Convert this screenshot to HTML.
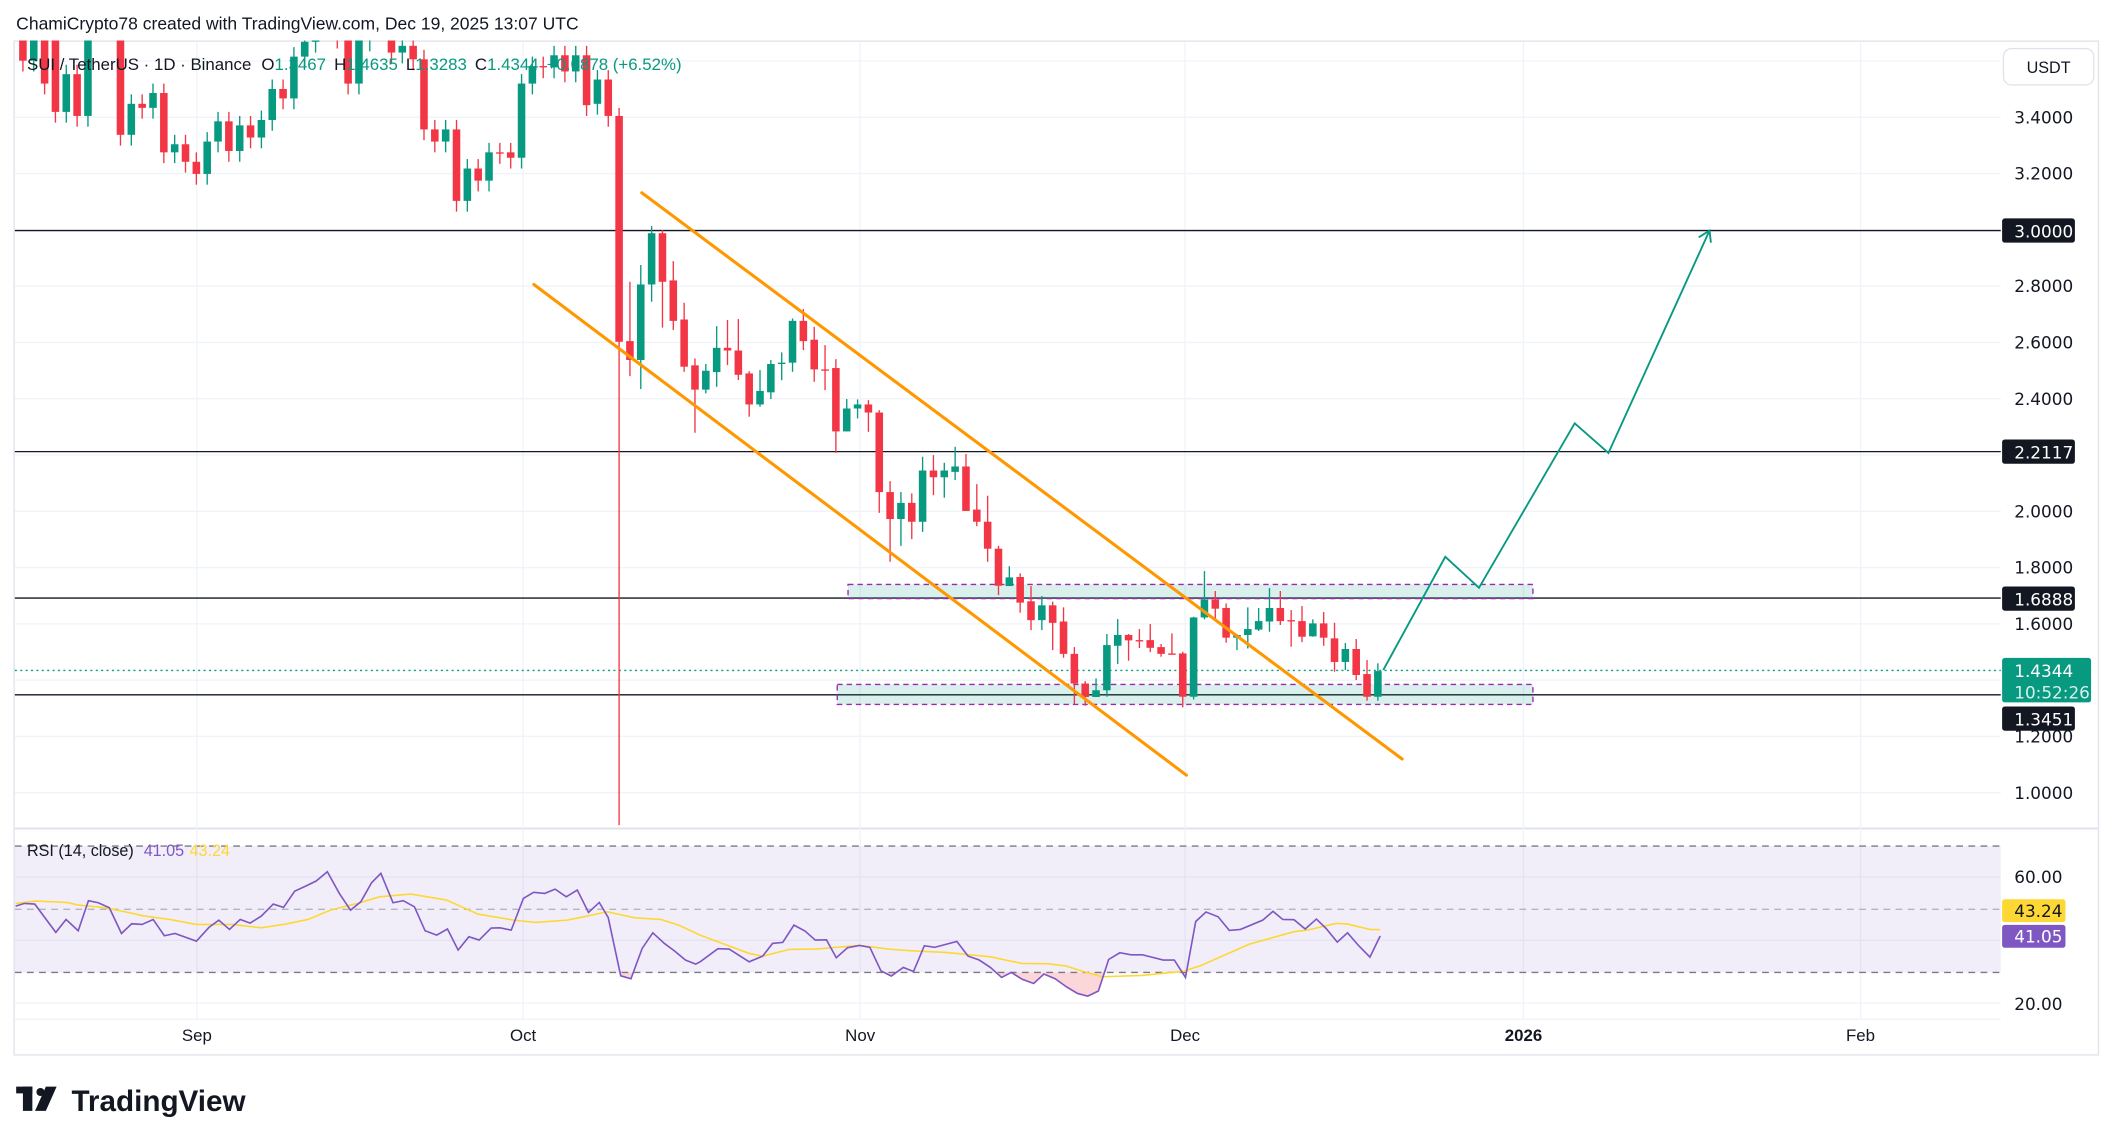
<!DOCTYPE html>
<html><head><meta charset="utf-8"><style>
html,body{margin:0;padding:0;background:#fff;}
svg{display:block;font-family:"Liberation Sans",sans-serif;}
</style></head><body>
<svg id="s" width="2114" height="1145" viewBox="0 0 1568 849.3" preserveAspectRatio="none" xmlns="http://www.w3.org/2000/svg">
<defs>
<clipPath id="pane"><rect x="11" y="30" width="1473" height="583"/></clipPath>
<clipPath id="os"><rect x="11" y="721.3" width="1473" height="40"/></clipPath>
</defs>
<rect width="1568" height="850" fill="#fff"/>
<text x="12" y="22" font-size="13" fill="#131722">ChamiCrypto78 created with TradingView.com, Dec 19, 2025 13:07 UTC</text>
<!-- frame -->
<rect x="10.5" y="30.5" width="1546" height="752" fill="none" stroke="#e0e3eb"/>
<line x1="11" y1="614.5" x2="1556" y2="614.5" stroke="#e0e3eb" stroke-width="1.5"/>
<line x1="11" y1="756" x2="1484" y2="756" stroke="#f0f3fa"/>
<g id="grid" stroke="#f0f3fa" stroke-width="1"></g>
<!-- RSI band -->
<rect x="11" y="627.6" width="1473" height="93.7" fill="#7e57c2" fill-opacity="0.1"/>
<line x1="11" y1="627.6" x2="1484" y2="627.6" stroke="#787b86" stroke-dasharray="5,4"/>
<line x1="11" y1="674.5" x2="1484" y2="674.5" stroke="#b2b5be" stroke-dasharray="5,4"/>
<line x1="11" y1="721.3" x2="1484" y2="721.3" stroke="#787b86" stroke-dasharray="5,4"/>
<!-- horizontal levels -->
<g stroke="#131722" stroke-width="1">
<line x1="11" y1="171" x2="1484" y2="171"/>
<line x1="11" y1="335" x2="1484" y2="335"/>
<line x1="11" y1="443.6" x2="1484" y2="443.6"/>
<line x1="11" y1="515.4" x2="1484" y2="515.4"/>
</g>
<line x1="11" y1="497.3" x2="1484" y2="497.3" stroke="#089981" stroke-width="1" stroke-dasharray="1.5,2.5"/>
<!-- zones -->
<rect x="629" y="433.5" width="508" height="10.5" fill="#089981" fill-opacity="0.15" stroke="#9c27b0" stroke-width="1" stroke-dasharray="4,3"/>
<rect x="621" y="507.7" width="516" height="14.8" fill="#089981" fill-opacity="0.15" stroke="#9c27b0" stroke-width="1" stroke-dasharray="4,3"/>
<g id="candles" clip-path="url(#pane)"></g>
<!-- channel -->
<g stroke="#ff9800" stroke-width="2.3" stroke-linecap="round">
<line x1="476" y1="143" x2="1040" y2="563"/>
<line x1="396" y1="211" x2="880" y2="575"/>
</g>
<!-- projection -->
<polyline points="1026,497 1072,413 1097,436 1168,314 1193,336 1268,171" fill="none" stroke="#089981" stroke-width="1.4"/>
<polyline points="1260,176 1268,171 1269,180" fill="none" stroke="#089981" stroke-width="1.4"/>
<g id="rsi"></g>
<!-- legends -->
<text x="20" y="52" font-size="12.5" fill="#131722">SUI / TetherUS · 1D · Binance  <tspan dx="4">O</tspan><tspan fill="#089981">1.3467</tspan><tspan dx="6">H</tspan><tspan fill="#089981">1.4635</tspan><tspan dx="6">L</tspan><tspan fill="#089981">1.3283</tspan><tspan dx="6">C</tspan><tspan fill="#089981">1.4344</tspan><tspan dx="6" fill="#089981">+0.0878 (+6.52%)</tspan></text>
<text x="20" y="635" font-size="12" fill="#131722">RSI (14, close) <tspan dx="4" fill="#7e57c2">41.05</tspan><tspan dx="4" fill="#fdd835">43.24</tspan></text>
<!-- price axis -->
<rect x="1486" y="36" width="67" height="27" rx="6" fill="#fff" stroke="#e0e3eb"/>
<text x="1519.5" y="54" font-size="12" fill="#131722" text-anchor="middle">USDT</text>
<g font-size="12.5" fill="#131722" font-family="DejaVu Sans, Liberation Sans, sans-serif" id="paxis"></g>
<g font-size="12.5" font-family="DejaVu Sans, Liberation Sans, sans-serif">
<rect x="1485" y="162" width="54" height="18" rx="2" fill="#131722"/><text x="1494" y="176" fill="#fff">3.0000</text>
<rect x="1485" y="326" width="54" height="18" rx="2" fill="#131722"/><text x="1494" y="340" fill="#fff">2.2117</text>
<rect x="1485" y="435" width="54" height="18" rx="2" fill="#131722"/><text x="1494" y="449" fill="#fff">1.6888</text>
<rect x="1485" y="488" width="66" height="33" rx="2" fill="#089981"/><text x="1494" y="502" fill="#fff">1.4344</text><text x="1494" y="518" fill="#d6f0ea">10:52:26</text>
<rect x="1485" y="524" width="54" height="18" rx="2" fill="#131722"/><text x="1494" y="538" fill="#fff">1.3451</text>
<text x="1494" y="655" fill="#131722">60.00</text>
<text x="1494" y="749" fill="#131722">20.00</text>
<rect x="1485" y="667" width="47" height="17" rx="2" fill="#fdd835"/><text x="1494" y="680" fill="#131722">43.24</text>
<rect x="1485" y="686" width="47" height="17" rx="2" fill="#7e57c2"/><text x="1494" y="699" fill="#fff">41.05</text>
</g>
<!-- time axis -->
<g font-size="12.5" fill="#131722" text-anchor="middle">
<text x="146" y="772">Sep</text><text x="388" y="772">Oct</text><text x="638" y="772">Nov</text>
<text x="879" y="772">Dec</text><text x="1130" y="772" font-weight="bold">2026</text><text x="1380" y="772">Feb</text>
</g>
<!-- logo -->
<g fill="#131722">
<rect x="12" y="806" width="12" height="5"/><rect x="17" y="806" width="7" height="18"/>
<circle cx="30" cy="810" r="3"/><polygon points="34,806 42,806 34,824 26,824"/>
<text x="53" y="824" font-size="22" font-weight="bold">TradingView</text>
</g>
</svg>
<script>
var NS="http://www.w3.org/2000/svg";
function el(p,t,a){var e=document.createElementNS(NS,t);for(var k in a)e.setAttribute(k,a[k]);p.appendChild(e);return e;}
var grid=document.getElementById('grid');
[146,388,638,879,1130,1380].forEach(function(x){el(grid,'line',{x1:x,y1:31,x2:x,y2:756});});
for(var k=-1;k<14;k++){var y=87+41.75*k;if(y>31&&y<612)el(grid,'line',{x1:11,y1:y,x2:1484,y2:y});}
[650.5,697.5].forEach(function(y){el(grid,'line',{x1:11,y1:y,x2:1484,y2:y});});
el(grid,'line',{x1:11,y1:744,x2:1484,y2:744});
var pa=document.getElementById('paxis');
["3.4000","3.2000","2.8000","2.6000","2.4000","2.0000","1.8000","1.6000","1.2000","1.0000"].forEach(function(s){
 var p=parseFloat(s);var y=87+(3.4-p)*208.75;var t=el(pa,'text',{x:1494,y:y+4.5});t.textContent=s;});
var D=[[20,45],[45,28],[25,62],[30,83],[83,55],[55,86],[86,25],[20,10],[15,5],[25,100],[100,77],[77,80],[80,69],[69,113],[113,107],[107,120],[120,129],[129,105],[105,90],[90,112],[112,93],[93,102],[102,89],[89,66],[66,73],[73,42],[42,31],[31,28],[20,15],[20,28],[28,62],[62,30],[30,22],[22,15],[25,39],[39,34],[34,44],[44,96],[96,105],[105,96],[96,149],[149,125],[125,134],[134,113],[113,113.5],[113,117],[117,62],[62,49],[49,50],[50,41],[41,53],[53,41],[41,78],[77,59],[59,86],
[86,253.5,80,612],[253,267,209,279],[267,211,196.6,288.6],[211,173,167.7,223.8],[173,209,170.7,243],[208,238,193.7,244.8],[237,272,224.6,275.8],[271,289,265.9,321],[289,275,270,291.8],[276,258,241.9,286.9],[258,260,237.4,270.8],[260,278,236.7,281.9],[277,300,275.3,309.1],[300,290,274.5,301.7],[291,270,267.1,296],[270,269,261.4,282],[269,238,236.2,275.8],[238,253,229.3,259.7],[252,274,242.4,283.2],[274,274.5,256,289.4],[273,320,266.4,335.9],[320,303,296,320],[303,300,296.3,310.4],[300,306,296.8,320.3],[306,365,304.2,380.4],[365,385,356.9,416.7],[385,373,365,404.9],[373,387,366,399.9],[387,349,338.8,394.5],[349,354,337.6,367.3],[354,349,343.3,369.2],[350,346,331.4,356.1],[346,379,336.8,379],[378,387,359.1,390.3],[387,407,367.7,416.7],[407,434.5,404.9,441.4],[434.7,428.3,420,434.7],
[428,447,425.3,454.5],[446,460,434.7,467.4],[460,449,442.1,467.4],[449,462,446.3,482.2],[461,485,450.5,487.9],[485,507,480,522.3],[507,517,505.2,523.5],[517,512,503.2,516.8],[512,478.5,470.3,516.8],[479,471,459.2,492.6],[471,475,470.3,490.1],[474.8,475.3,466.6,480.7],[474.8,480.5,462.9,483.7],[480,485,477.7,487.1],[484.7,485.2,469.8,485.2],[484.7,516.8,483.4,524.7],[516.8,458,457.5,518.8],[458,444.6,423.6,459.4],[444.6,451.5,438.4,460.7],[451,473,447.6,476.7],[473,471,470.3,482.2],[471,466.6,450.5,481],[467,460.7,451,468],[461,451,436.2,468.6],[451,460.7,438.4,463.6],[460,460.5,452.5,479.7],[460.7,472.3,449.5,476.3],[472,462.4,459.4,472.3],[462.4,473,454,479],[473.5,491,461.9,498.3],[491,481.4,477,497],[481.4,500.7,474,504.4],[500,516.8,489.6,519.8],[516.8,497.8,492,519.8]];
var cg=document.getElementById('candles');
D.forEach(function(d,i){
 var x=17+i*8.04,o=d[0],c=d[1],top=Math.min(o,c),bot=Math.max(o,c);
 var h=d.length>2?d[2]:top-7,l=d.length>2?d[3]:bot+8;
 var col=c>o?'#f23645':'#089981';
 el(cg,'line',{x1:x,y1:h,x2:x,y2:l,stroke:col,'stroke-width':1});
 el(cg,'rect',{x:x-2.8,y:top,width:5.6,height:Math.max(bot-top,1),fill:col});
});
var P6=[[35,228],[55,220],[78,222],[125,307],[148,268],[175,302],[198,212],[220,218],[245,233],[272,310],[295,281],[318,283],[343,268],[368,317],[392,310],[440,333],[468,292],[490,270],[514,298],[538,268],[560,279],[585,258],[612,222],[635,232],[660,183],[685,168],[708,153],[733,125],[760,190],[785,240],[808,215],[832,158],[853,130],[880,218],[903,212],[928,230],[952,302],[978,315],[1002,297],[1026,360],[1050,320],[1073,330],[1100,294],[1120,293],[1145,300],[1172,205],[1195,187],[1220,190],[1243,177],[1268,200],[1293,180],[1318,247],[1342,217],[1362,262],[1390,437],[1413,446],[1438,355],[1462,308],[1488,340],[1510,362],[1535,390],[1558,402]];
var P7=[[0,395],[40,356],[65,357],[110,395],[140,378],[162,340],[185,337],[210,285],[235,303],[258,330],[283,329],[305,383],[330,353],[357,346],[380,352],[405,422],[428,438],[455,412],[478,424],[502,347],[525,352],[575,334],[600,378],[625,390],[650,412],[675,442],[697,427],[722,448],[747,460],[770,432],[795,446],[820,470],[845,490],[868,498],[892,483],[915,388],[940,368],[965,374],[990,374],[1037,390],[1062,390],[1087,442],[1110,274],[1133,246],[1160,260],[1185,301],[1210,298],[1260,270],[1283,244],[1305,268],[1330,269],[1355,297],[1380,267],[1402,295],[1427,336],[1450,308],[1475,347],[1500,381],[1523,318]];
var Y6=[[35,220],[80,213],[150,217],[175,225],[230,232],[280,245],[320,257],[380,268],[440,283],[520,283],[585,293],[640,282],[690,268],[740,240],[800,220],[850,200],[920,192],[1000,210],[1070,252],[1150,270],[1200,277],[1270,270],[1300,262],[1360,245],[1420,263],[1480,268],[1520,285]];
var Y7=[[0,315],[30,330],[110,370],[140,378],[200,358],[260,357],[357,346],[430,358],[470,362],[550,367],[650,380],[720,400],[780,401],[820,408],[860,425],[900,440],[990,436],[1080,424],[1120,407],[1230,342],[1330,305],[1360,300],[1425,280],[1450,282],[1500,298],[1523,299]];
function conv(a,off){return a.map(function(p){return [(off+p[0]*0.3312).toFixed(1),(615.7+p[1]*0.2473).toFixed(1)];});}
var pur=conv(P6,0).concat(conv(P7,519.3)),yel=conv(Y6,0).concat(conv(Y7,519.3));
var rg=document.getElementById('rsi');
var fillPts=pur.map(function(p){return p.join(',');}).join(' ');
el(rg,'polygon',{points:fillPts+' 1024,721.3 11,721.3',fill:'#f23645','fill-opacity':0.2,'clip-path':'url(#os)'});
el(rg,'polyline',{points:yel.map(function(p){return p.join(',');}).join(' '),fill:'none',stroke:'#fdd835','stroke-width':1.2});
el(rg,'polyline',{points:fillPts,fill:'none',stroke:'#7e57c2','stroke-width':1.2});
</script>
</body></html>
